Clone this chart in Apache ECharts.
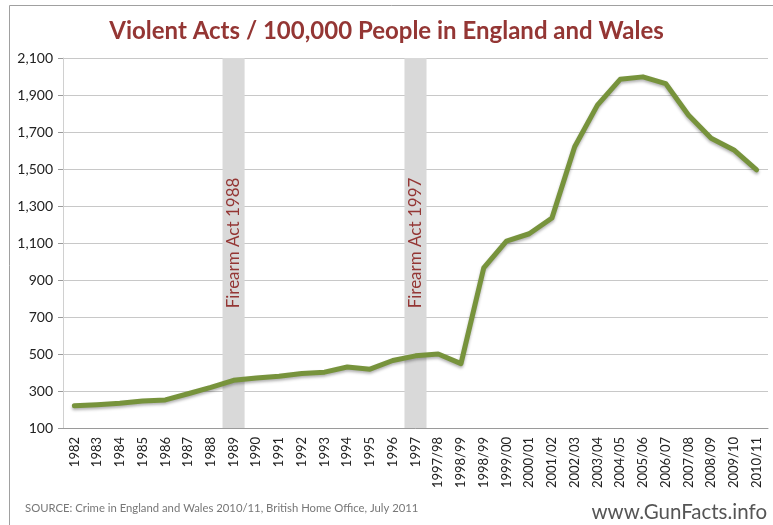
<!DOCTYPE html>
<html>
<head>
<meta charset="utf-8">
<script src="https://cdn.jsdelivr.net/npm/echarts@6/dist/echarts.min.js"></script>
<style>
  html, body { margin: 0; padding: 0; background: #fff; }
  #chart { width: 773px; height: 525px; }
</style>
</head>
<body>
<div id="chart"></div>
<script>
// periods on the x axis (the source lists 1998/99 twice)
const periods = [
  '1982', '1983', '1984', '1985', '1986', '1987', '1988', '1989', '1990', '1991',
  '1992', '1993', '1994', '1995', '1996', '1997', '1997/98', '1998/99', '1998/99',
  '1999/00', '2000/01', '2001/02', '2002/03', '2003/04', '2004/05', '2005/06',
  '2006/07', '2007/08', '2008/09', '2009/10', '2010/11'
]
// violent acts per 100,000 people
const violentActs = [
  220, 226, 234, 246, 252, 285, 320, 358, 370, 380,
  395, 402, 430, 418, 465, 490, 500, 448, 965,
  1110, 1150, 1235, 1620, 1845, 1985, 1998,
  1962, 1792, 1666, 1603, 1495
]
// firearm acts shown as grey bands
const actIndex = [7, 15]
const actLabels = ['Firearm Act 1988', 'Firearm Act 1997']
const yTicks = { min: 100, max: 2100, interval: 200 }

const bandData = periods.map(function (p, i) {
  const k = actIndex.indexOf(i)
  if (k < 0) return '-'
  return { value: yTicks.max, label: { formatter: actLabels[k] } }
})

const chart = echarts.init(document.getElementById('chart'))
const option = {
  animation: false,
  backgroundColor: '#fff',
  title: {
    text: 'Violent Acts / 100,000 People in England and Wales',
    left: 'center',
    top: 14,
    textStyle: {
      fontFamily: 'Lato',
      fontSize: 24,
      fontWeight: 'bold',
      color: '#943634'
    }
  },
  grid: { left: 63, right: 5, top: 58, bottom: 97 },
  xAxis: {
    type: 'category',
    data: periods,
    boundaryGap: true,
    axisLine: { lineStyle: { color: '#9a9a9a' } },
    axisTick: { length: 5, lineStyle: { color: '#9a9a9a' } },
    axisLabel: {
      rotate: 90,
      interval: 0,
      margin: 9,
      fontFamily: 'Lato',
      fontSize: 13,
      color: '#222'
    }
  },
  yAxis: {
    type: 'value',
    min: yTicks.min,
    max: yTicks.max,
    interval: yTicks.interval,
    axisLine: { show: true, lineStyle: { color: '#d0d0d0' } },
    axisTick: { show: true, length: 5, lineStyle: { color: '#9a9a9a' } },
    axisLabel: {
      margin: 10,
      fontFamily: 'Lato',
      fontSize: 14,
      color: '#222',
      formatter: function (v) { return v.toLocaleString('en-US') }
    },
    splitLine: { lineStyle: { color: '#c8c8c8' } }
  },
  series: [
    {
      type: 'bar',
      data: bandData,
      barWidth: '97%',
      itemStyle: { color: '#d9d9d9' },
      silent: true,
      z: 1,
      label: {
        show: true,
        position: 'inside',
        rotate: 90,
        fontFamily: 'Lato',
        fontSize: 17,
        color: '#943634'
      }
    },
    {
      type: 'line',
      data: violentActs,
      symbol: 'none',
      z: 3,
      lineStyle: {
        width: 5,
        color: '#77933c',
        cap: 'round',
        join: 'round',
        shadowColor: 'rgba(0,0,0,0.3)',
        shadowBlur: 3,
        shadowOffsetY: 2
      }
    }
  ],
  graphic: [
    {
      type: 'rect',
      shape: { x: 9.5, y: 5.5, width: 800, height: 600 },
      style: { fill: null, stroke: '#a0a0a0', lineWidth: 1 },
      silent: true
    },
    {
      type: 'text',
      left: 25,
      top: 503,
      style: {
        text: 'SOURCE: Crime in England and Wales 2010/11, British Home Office, July 2011',
        fontFamily: 'Lato',
        fontSize: 11.3,
        fill: '#777'
      }
    },
    {
      type: 'text',
      right: 6,
      top: 502,
      style: {
        text: 'www.GunFacts.info',
        fontFamily: 'Lato',
        fontSize: 20.5,
        fill: '#555'
      }
    }
  ]
}
chart.setOption(option)
</script>
</body>
</html>
